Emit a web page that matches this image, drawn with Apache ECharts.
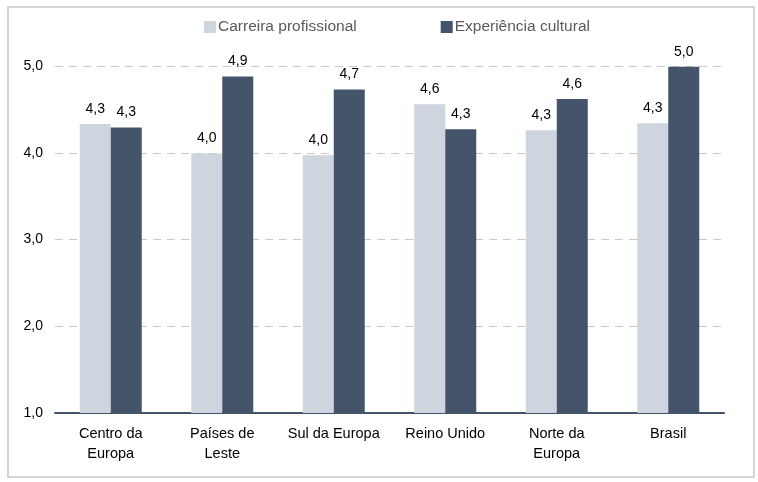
<!DOCTYPE html>
<html><head><meta charset="utf-8">
<script src="https://cdn.jsdelivr.net/npm/echarts@6/dist/echarts.min.js"></script>
<style>html,body{margin:0;padding:0;background:#fff}#frame{position:absolute;left:7px;top:6px;width:748px;height:472px;border:2px solid #d4d4d4;box-sizing:border-box}#c{position:absolute;left:0;top:0;width:758px;height:482px}</style>
</head><body><div id="frame"></div><div id="c"></div>
<script>
const categories = ["Centro da\nEuropa", "Países de\nLeste", "Sul da Europa", "Reino Unido", "Norte da\nEuropa", "Brasil"];
const seriesNames = ["Carreira profissional", "Experiência cultural"];
const carreira = [4.33, 3.99, 3.97, 4.56, 4.26, 4.34];
const cultural = [4.29, 4.88, 4.73, 4.27, 4.62, 4.99];
const yTicks = [1, 2, 3, 4, 5];

const fmt = v => v.toFixed(1).replace('.', ',');
const chart = echarts.init(document.getElementById('c'));
chart.setOption({
  animation: false,
  textStyle: { fontFamily: 'Liberation Sans, Arial, sans-serif' },
  legend: {
    top: 14, left: 199, itemWidth: 12, itemHeight: 12, itemGap: 84,
    icon: 'rect',
    textStyle: { color: '#595959', fontSize: 15.5, padding: [0, 0, 0, -3] },
    data: seriesNames
  },
  grid: { left: 55, right: 34, top: 66, bottom: 69 },
  xAxis: {
    type: 'category', data: categories,
    axisLine: { lineStyle: { color: '#44546a', width: 2 } },
    axisTick: { show: false },
    axisLabel: { color: '#000', fontSize: 14.5, margin: 11, lineHeight: 20, interval: 0 }
  },
  yAxis: {
    type: 'value', min: yTicks[0], max: yTicks[yTicks.length - 1], interval: 1,
    axisLine: { show: false }, axisTick: { show: false },
    axisLabel: { color: '#000', fontSize: 14, margin: 12, formatter: v => fmt(v) },
    splitLine: { lineStyle: { color: '#c8c8c8', type: [8, 6], width: 1 } }
  },
  series: [
    { name: seriesNames[0], type: 'bar', data: carreira, barWidth: 31, barGap: '0%',
      itemStyle: { color: '#ced5df' },
      label: { show: true, position: 'top', distance: 8, color: '#000', fontSize: 14, formatter: p => fmt(p.value) } },
    { name: seriesNames[1], type: 'bar', data: cultural, barWidth: 31, barGap: '0%',
      itemStyle: { color: '#44546a' },
      label: { show: true, position: 'top', distance: 8, color: '#000', fontSize: 14, formatter: p => fmt(p.value) } }
  ]
});
</script></body></html>
